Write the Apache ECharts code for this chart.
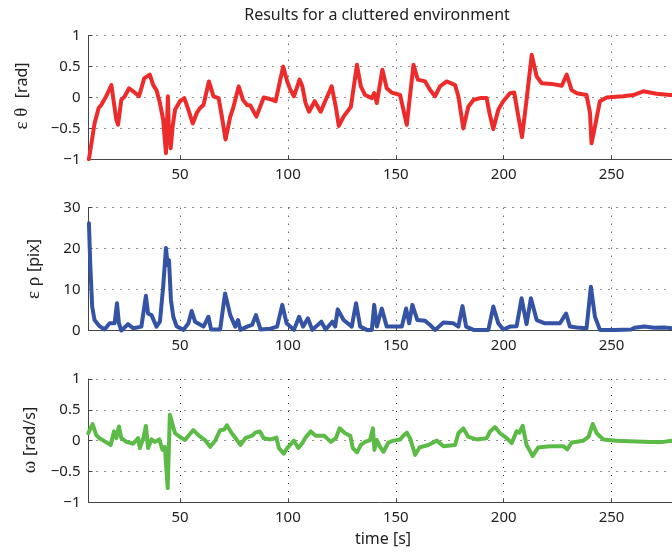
<!DOCTYPE html>
<html><head><meta charset="utf-8">
<script src="https://cdn.jsdelivr.net/npm/echarts@6/dist/echarts.min.js"></script>
<style>html,body{margin:0;padding:0;background:#fff}#c{width:672px;height:552px}</style>
</head><body><div id="c"></div>
<script>
// ---- data ----
var tTheta = [7.8,10.4,12.3,13.5,15.8,18.2,20.5,21.3,22.8,24.4,26.4,28.3,31,32.1,33.4,36,37.6,39.1,40.7,42.2,43.5,44.4,44.9,45.7,46.6,47.7,50,52,53.9,55.9,57.8,59.3,60.9,63.4,65.5,67.9,69.4,71.1,73.3,74.8,77.2,79.2,81.1,82.6,85.4,88.8,91.1,94.3,95.8,97.8,99.7,101.2,102.8,105.4,106.7,108.2,109.8,112.4,115.2,117.5,120.3,122.2,123.6,125.8,129.2,132,133.8,135.8,138.9,140,141.2,143.8,145.8,148.1,152,155.1,158.2,160.2,163.6,165.9,168.2,170.5,173.6,177.5,179,181.3,183.6,186,189,192.1,193.4,195.2,197.5,199.8,202.9,204.9,206.5,208.5,210.6,213,215.3,217.6,222.2,226.9,229.2,231.5,233.8,238.4,240,240.7,242.3,244.6,247.7,255.4,260,264.7,270.8,277,285];
var vTheta = [-1.0,-0.42,-0.17,-0.12,0.02,0.2,-0.36,-0.44,-0.04,0.02,0.15,0.1,0.02,0.15,0.31,0.37,0.2,0.12,-0.09,-0.36,-0.9,0.02,-0.58,-0.82,-0.47,-0.2,-0.06,-0.01,-0.2,-0.42,-0.25,-0.17,-0.12,0.26,0.02,-0.01,-0.31,-0.68,-0.31,-0.15,0.18,-0.04,-0.12,-0.13,-0.31,0,-0.02,-0.06,0.18,0.5,0.26,0.12,0.02,0.29,0.18,-0.09,-0.23,-0.06,-0.23,-0.04,0.18,-0.15,-0.46,-0.31,-0.15,0.53,0.18,0.04,-0.01,0.07,-0.09,0.45,0.15,0.08,0.04,-0.44,0.53,0.29,0.26,0.12,0.02,0.18,0.26,0.2,0.02,-0.5,-0.15,-0.04,-0.01,-0.01,-0.25,-0.51,-0.2,-0.06,0.07,0.08,-0.25,-0.64,-0.04,0.69,0.34,0.23,0.22,0.19,0.37,0.12,0.07,0.04,-0.25,-0.74,-0.47,-0.06,0,0.02,0.04,0.1,0.06,0.04,0.03];

var tRho = [7.8,8.4,9.3,10.4,12.7,15,17.4,19.7,20.8,21.7,22.8,25.9,28.3,32.1,34.2,35.2,36.8,39.1,40.7,42.2,43.5,44.3,44.9,45.8,46.9,48.4,51.6,53.9,55.4,57,60.9,63.2,64.4,68.6,70.9,73.3,75.6,76.9,78,81.1,83.4,85.2,87.3,91.9,95,97.4,99.4,102.8,105.2,107,109.3,111.3,115.5,117.5,120.6,121.9,123.1,125.8,129.6,131.6,133.5,136.6,138.9,140,141.2,143.5,145.8,150.5,152.8,154.8,156.2,157.7,160,163.6,165.9,168.2,172.1,176.7,179,180.9,182.6,186,192.9,195.2,197.5,199.8,202.9,206,208.3,210.6,212.6,215.3,219.1,226.1,228.9,230.7,233.8,238.4,240.4,242.3,244.6,251.4,259.1,260.6,265.2,269.8,274.4,278,285];
var vRho = [26.2,16.4,5.9,2.6,1.1,0.3,1.8,1.8,6.7,1.8,0,1.6,0.6,1,8.5,4.2,3.8,1,2.2,10.7,20.2,16,17.2,7.5,3.4,1.1,0.2,1.8,4.8,2.2,1,3.4,0.3,0.3,9.1,3.8,1,2.6,0.2,1,1.4,3.8,0.3,0.5,1,6.3,1.8,0.2,3.4,1,3,0.2,2.2,0.3,2.2,1,5.2,2.6,1,6.7,1,0.2,0.2,6.3,1,5.4,1,1,1,5.4,1.8,6.3,2.6,2.4,1.4,0.2,2,1.8,1,6,1,0.2,0.2,5.9,1.8,0.3,1,1.1,7.9,1.6,7.9,2.6,1.8,1.8,4.2,1,0.8,0.6,10.7,3.4,0.2,0.2,0.3,0.7,1,0.7,0.8,0.6,0.6];

var tOmega = [7.5,9.5,11.2,12.7,15.5,17.9,19.4,20.5,21.7,22.8,25.2,28.3,30.6,31.4,33,34.2,35.2,36.8,38.4,40.4,41.9,43,44.3,44.6,45.3,46.4,47.7,50,52.3,53.9,56.2,58.5,61.6,64,66.3,68.6,70.5,71.7,74,76.4,78,80.3,83.4,84.9,87,88.8,91.9,94.7,95.8,98.1,99.7,102.8,104.8,106.7,108.2,110.6,112.9,116.8,119.9,122.2,124,126.5,128.9,130.1,132,133.8,135.8,138.1,139.4,140.1,141.2,142.7,144.3,146.6,148.9,152,153.5,155.1,156.6,159,161,165.1,169,172.1,177.5,179,181.3,183.6,187.5,192.1,193.7,196,198.3,201.4,203.7,206,207.3,208.8,210.6,211.9,213.4,216,221.4,227.6,229.5,231.5,236.9,239.3,241.3,243.1,246.2,252.3,258.5,267.8,273.9,278,285];
var vOmega = [0.12,0.27,0.09,0.04,-0.02,-0.07,0.15,0.04,0.23,0.04,-0.02,-0.05,0.04,-0.12,0.04,0.24,-0.12,0.02,-0.02,0.02,-0.15,-0.1,-0.77,-0.74,0.42,0.28,0.12,0.06,0.01,0.08,0.17,0.09,0.01,-0.1,0,0.17,0.18,0.25,0.12,0.01,-0.07,0.04,0.08,0.13,0.15,0.04,0.02,0.05,-0.12,-0.21,-0.12,0,-0.12,-0.04,0.05,0.15,0.08,0.08,-0.02,0.04,0.2,0.12,0.08,-0.12,-0.19,-0.07,-0.02,0.01,0.2,-0.15,0.01,-0.1,-0.18,-0.03,0,0.02,0.08,0.13,0.04,-0.23,-0.11,-0.07,0,-0.09,-0.07,0.12,0.2,0.06,0.02,0.04,0.15,0.22,0.12,0.04,-0.04,0.15,0.13,0.24,-0.07,-0.15,-0.25,-0.11,-0.09,-0.09,-0.14,-0.03,0,0.06,0.27,0.12,0.02,0,-0.01,-0.02,-0.02,0,-0.01];

var xMin = 7.6, xMax = 278;
var titleText = 'Results for a cluttered environment';
var xName = 'time [s]';

function pairs(t, v){ return t.map(function(x,i){ return [x, v[i]]; }); }

var FONT = '"Noto Sans", "DejaVu Sans", sans-serif';
var GREEK = '"Liberation Serif", "DejaVu Serif", serif';
var plotLeft = 88.5, plotWidth = 672 - 88.5;
var tops = [35.7, 207.7, 379], heights = [123.6, 123, 123.3];

function grid(i){ return {left: plotLeft, top: tops[i], width: plotWidth, height: heights[i], containLabel: false}; }
var dotted = {show: true, lineStyle: {color: '#222', width: 1, type: [1, 7]}};
function xAx(i){
  return {gridIndex: i, type: 'value', min: xMin, max: xMax, minInterval: 50, maxInterval: 50,
    axisLine: {show: true, onZero: false, lineStyle: {color: '#444', width: 1}},
    axisTick: {show: true, inside: true, length: 4, lineStyle: {color: '#444'}},
    axisLabel: {show: true, showMinLabel: false, showMaxLabel: false, color: '#222', fontSize: 15, fontFamily: FONT, margin: 8},
    splitLine: dotted};
}
function yAx(i, mn, mx, iv){
  return {gridIndex: i, type: 'value', min: mn, max: mx, interval: iv,
    axisLine: {show: true, lineStyle: {color: '#444', width: 1}},
    axisTick: {show: true, inside: true, length: 4, lineStyle: {color: '#444'}},
    axisLabel: {color: '#222', fontSize: 15, fontFamily: FONT, margin: 8,
      formatter: function(v){ return String(v).replace('-', '\u2212'); }},
    splitLine: dotted};
}
function ser(i, t, v, col){
  return {type: 'line', xAxisIndex: i, yAxisIndex: i, data: pairs(t, v), showSymbol: false, symbol: 'none',
    clip: true, lineStyle: {color: col, width: 4, join: 'round', cap: 'round'}, z: 3};
}
function yLabel(x, y, greek, rest){
  return {type: 'text', x: x, y: y, rotation: Math.PI/2,
    style: {text: '{g|' + greek + '}{r|' + rest + '}', align: 'center', verticalAlign: 'middle',
      rich: {g: {fontFamily: GREEK, fontSize: 19, fill: '#222'}, r: {fontFamily: FONT, fontSize: 16, fill: '#222'}}}};
}

var chart = echarts.init(document.getElementById('c'), null, {renderer: 'canvas'});
chart.setOption({
  animation: false,
  backgroundColor: '#fff',
  grid: [grid(0), grid(1), grid(2)],
  xAxis: [xAx(0), xAx(1), xAx(2)],
  yAxis: [yAx(0, -1, 1, 0.5), yAx(1, 0, 30, 10), yAx(2, -1, 1, 0.5)],
  series: [ser(0, tTheta, vTheta, '#ee2b2b'), ser(1, tRho, vRho, '#3453a5'), ser(2, tOmega, vOmega, '#5cba47')],
  graphic: [
    {type: 'text', x: 377, y: 15, style: {text: titleText, align: 'center', verticalAlign: 'middle', font: '16px ' + FONT, fill: '#222'}},
    {type: 'text', x: 383, y: 539, style: {text: xName, align: 'center', verticalAlign: 'middle', font: '16px ' + FONT, fill: '#222'}},
    yLabel(22, 96, '\u03b5 \u03b8  ', '[rad]'),
    yLabel(34, 269, '\u03b5 \u03c1 ', '[pix]'),
    yLabel(30, 440, '\u03c9 ', '[rad/s]')
  ]
});
</script></body></html>
